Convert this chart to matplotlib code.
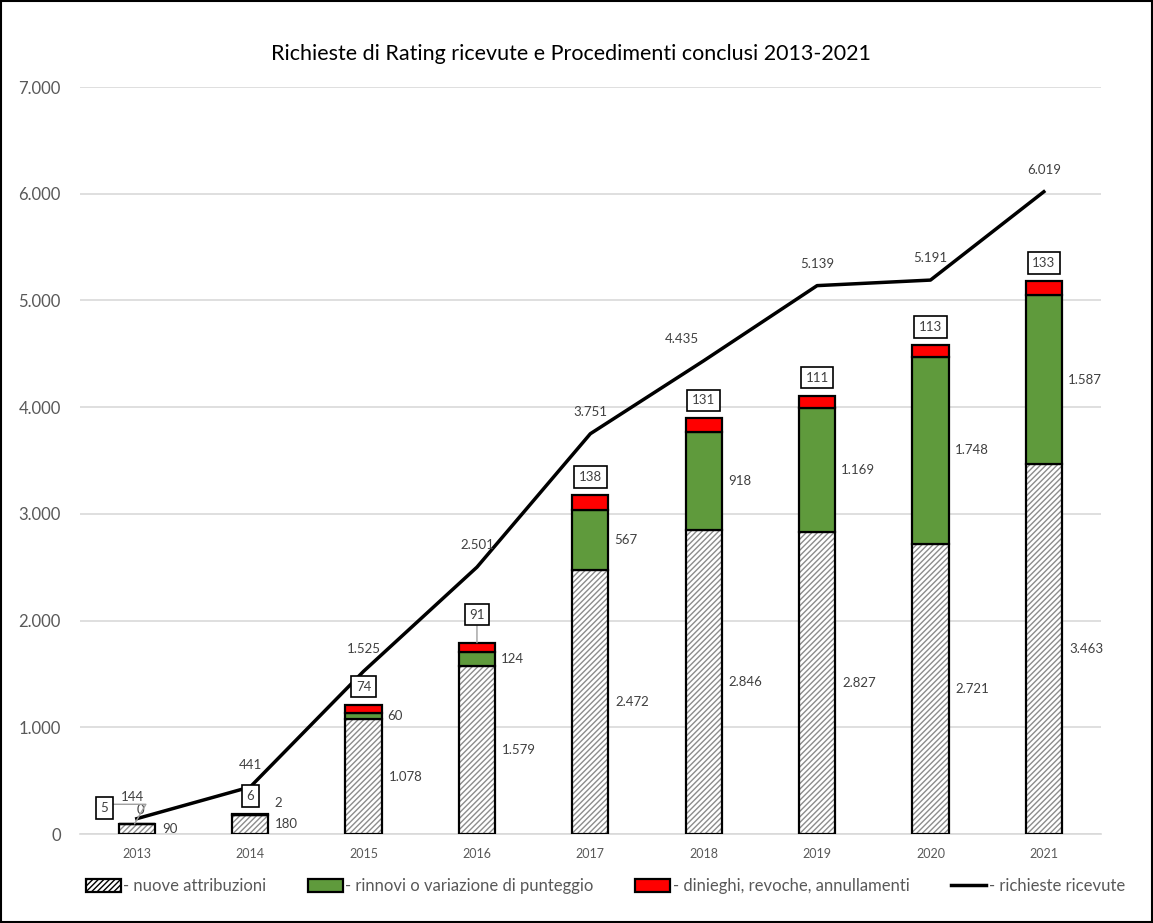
import numpy as np
import matplotlib
matplotlib.use("Agg")
from matplotlib import pyplot as plt
from matplotlib.patches import Patch, Rectangle
from matplotlib.lines import Line2D

plt.rcParams['font.family'] = ['Lato', 'DejaVu Sans']

anni = ['2013', '2014', '2015', '2016', '2017', '2018', '2019', '2020', '2021']
nuove = [90, 180, 1078, 1579, 2472, 2846, 2827, 2721, 3463]
rinnovi = [0, 2, 60, 124, 567, 918, 1169, 1748, 1587]
dinieghi = [5, 6, 74, 91, 138, 131, 111, 113, 133]
richieste = [144, 441, 1525, 2501, 3751, 4435, 5139, 5191, 6019]


def fmt(v):
    return f'{v:,}'.replace(',', '.')


verde = '#5f9a3c'
rosso = '#ff0000'
grigio_txt = '#595959'

fig = plt.figure(figsize=(11.53, 9.23), dpi=100)
ax = fig.add_axes([0.0695, 0.0964, 0.885, 0.8093])

x = np.arange(len(anni))
w = 0.32
nuove = np.array(nuove)
rinnovi = np.array(rinnovi)
dinieghi = np.array(dinieghi)

# hatched base (hatch drawn in grey, outline drawn separately in black)
ax.bar(x, nuove, w, color='white', edgecolor='#8c8c8c', hatch='//////', linewidth=0, zorder=3)
ax.bar(x, nuove, w, color='none', edgecolor='black', linewidth=1.6, zorder=4)
ax.bar(x, rinnovi, w, bottom=nuove, color=verde, edgecolor='black', linewidth=1.6, zorder=4)
ax.bar(x, dinieghi, w, bottom=nuove + rinnovi, color=rosso, edgecolor='black', linewidth=1.6, zorder=4)

ax.plot(x, richieste, color='black', linewidth=2.5, zorder=5)

lab_kw = dict(textcoords='offset pixels', fontsize=9.5, color='#404040', zorder=6)
box = dict(boxstyle='square,pad=0.35', fc='white', ec='black', lw=1.2)

for i in range(len(anni)):
    # nuove attribuzioni
    ax.annotate(fmt(nuove[i]), (x[i] + w / 2, nuove[i] / 2), xytext=(7, 0),
                ha='left', va='center', **lab_kw)
    # rinnovi
    if i == 0:
        ax.annotate(fmt(rinnovi[i]), (x[i], nuove[i] + rinnovi[i]), xytext=(4, 14),
                    ha='center', va='center', **lab_kw)
    else:
        ax.annotate(fmt(rinnovi[i]), (x[i] + w / 2, nuove[i] + rinnovi[i] / 2),
                    xytext=(6, 0 if rinnovi[i] > 40 else 12), ha='left', va='center', **lab_kw)
    # dinieghi (boxed)
    top = nuove[i] + rinnovi[i] + dinieghi[i]
    if i == 0:
        ax.annotate(fmt(dinieghi[i]), (x[i] - 0.02, top), xytext=(-30, 16), ha='center', va='center',
                    bbox=box,
                    arrowprops=dict(arrowstyle='-', color='#a0a0a0', lw=1.0, relpos=(1, 0.8),
                                    shrinkA=0, shrinkB=0,
                                    connectionstyle='angle,angleA=0,angleB=60,rad=0'),
                    **lab_kw)
    else:
        dy = 28 if i == 3 else 18
        ax.annotate(fmt(dinieghi[i]), (x[i], top), xytext=(0, dy), ha='center', va='center',
                    bbox=box,
                    arrowprops=dict(arrowstyle='-', color='#a0a0a0', lw=1.0,
                                    shrinkA=0, shrinkB=0) if i == 3 else None,
                    **lab_kw)
    # richieste ricevute
    dx = -22 if i == 5 else (-4 if i == 0 else 0)
    ax.annotate(fmt(richieste[i]), (x[i], richieste[i]), xytext=(dx, 22),
                ha='center', va='center', **lab_kw)

ax.set_xlim(-0.5, len(anni) - 0.5)
ax.set_ylim(0, 7000)
ax.set_yticks(np.arange(0, 7001, 1000))
ax.set_yticklabels([fmt(v) for v in range(0, 7001, 1000)], fontsize=12, color=grigio_txt)
ax.set_xticks(x)
ax.set_xticklabels(anni, fontsize=9, color=grigio_txt)
ax.tick_params(axis='both', length=0)
ax.tick_params(axis='y', pad=14)
ax.tick_params(axis='x', pad=10)
ax.grid(axis='y', color='#d9d9d9', linewidth=1.2, zorder=0)
for s in ['top', 'right', 'left']:
    ax.spines[s].set_visible(False)
ax.spines['bottom'].set_color('#d9d9d9')
ax.spines['bottom'].set_linewidth(1.2)

fig.text(0.495, 0.942, 'Richieste di Rating ricevute e Procedimenti conclusi 2013-2021',
         ha='center', va='center', fontsize=15.5, color='black')

handles = [
    Patch(facecolor='white', edgecolor='black', hatch='//////', linewidth=1.6),
    Patch(facecolor=verde, edgecolor='black', linewidth=1.6),
    Patch(facecolor=rosso, edgecolor='black', linewidth=1.6),
    Line2D([0], [0], color='black', linewidth=2.5),
]
labels = ['- nuove attribuzioni', '- rinnovi o variazione di punteggio',
          '- dinieghi, revoche, annullamenti', '- richieste ricevute']
fig.legend(handles, labels, loc='center', bbox_to_anchor=(0.525, 0.040), ncol=4,
           frameon=False, fontsize=12, handlelength=2.1, handleheight=0.8,
           handletextpad=0.15, columnspacing=2.5, labelcolor=grigio_txt)

fig.add_artist(Rectangle((0.001, 0.001), 0.998, 0.998, transform=fig.transFigure,
                         fill=False, edgecolor='black', linewidth=1.5))

fig.savefig('out.png', dpi=100)
